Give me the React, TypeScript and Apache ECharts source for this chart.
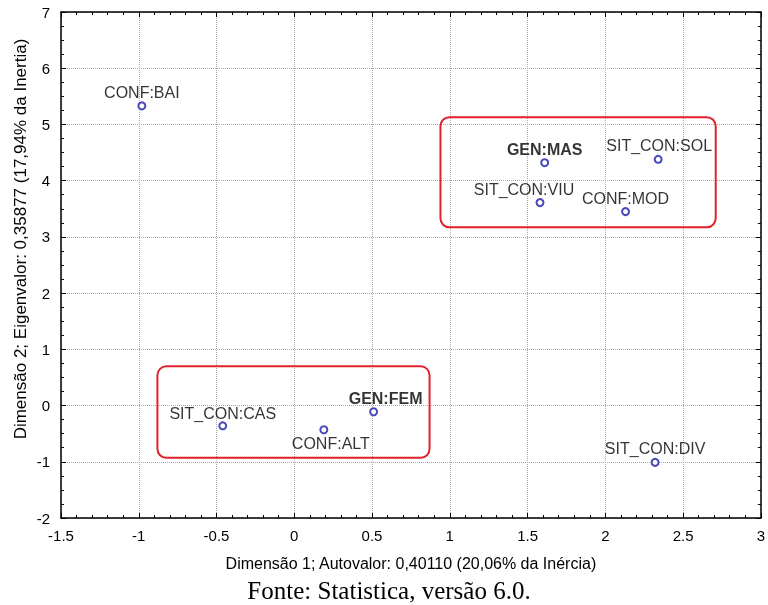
import React, { useEffect, useRef } from "react";
import * as echarts from "echarts";

const pointNames = ["CONF:BAI", "GEN:MAS", "SIT_CON:SOL", "SIT_CON:VIU", "CONF:MOD", "SIT_CON:CAS", "CONF:ALT", "GEN:FEM", "SIT_CON:DIV"];
const dim1 = [-0.98, 1.61, 2.34, 1.58, 2.13, -0.46, 0.19, 0.51, 2.32];
const dim2 = [5.33, 4.32, 4.38, 3.61, 3.45, -0.36, -0.43, -0.11, -1.01];
const boldNames = ["GEN:MAS", "GEN:FEM"];
// highlight boxes in data space: [x0, y0, x1, y1]
const boxes = [
  [0.94, 5.13, 2.71, 3.17],
  [-0.88, 0.7, 0.87, -0.93],
];
const xTitle = "Dimensão 1; Autovalor: 0,40110 (20,06% da Inércia)";
const yTitle = "Dimensão 2; Eigenvalor: 0,35877 (17,94% da Inertia)";
const footer = "Fonte: Statistica, versão 6.0.";

const FONT = "'Liberation Sans', Arial, sans-serif";

export default function App() {
  const ref = useRef<HTMLDivElement>(null);
  useEffect(() => {
    if (!ref.current) return;
    document.body.style.margin = "0";
    const chart = echarts.init(ref.current, null, { renderer: "svg" });
    const labelCfg: Record<string, any> = {
      "SIT_CON:VIU": { offset: [-16, 0] },
      "CONF:ALT": { position: "bottom", offset: [7, 0] },
      "GEN:FEM": { offset: [12, 0] },
      "SIT_CON:CAS": { offset: [0, 1] },
      "SIT_CON:SOL": { offset: [1, 0] },
    };
    const data = pointNames.map((n, i) => ({
      value: [dim1[i], dim2[i], n],
      label: {
        fontWeight: boldNames.includes(n) ? "bold" : "normal",
        ...(labelCfg[n] || {}),
      },
    }));
    const axisCommon = {
      axisLine: { onZero: false, lineStyle: { color: "#000", width: 1.5 } },
      axisTick: { inside: true, length: 5, lineStyle: { color: "#000" } },
      minorTick: { show: true, length: 3, lineStyle: { color: "#000" } },
    };
    chart.setOption({
      animation: false,
      textStyle: { fontFamily: FONT },
      grid: { left: 61, right: 5, top: 12, bottom: 87 },
      xAxis: [
        {
          type: "value",
          min: -1.5,
          max: 3,
          interval: 0.5,
          ...axisCommon,
          minorTick: { ...axisCommon.minorTick, splitNumber: 5 },
          axisLabel: { color: "#000", fontSize: 15, margin: 10, fontFamily: FONT },
          splitLine: { show: true, lineStyle: { color: "#aaa", type: "dotted", width: 1 } },
          name: xTitle,
          nameLocation: "middle",
          nameGap: 37,
          nameTextStyle: { color: "#000", fontSize: 16, fontFamily: FONT },
        },
        {
          type: "value",
          position: "top",
          min: -1.5,
          max: 3,
          interval: 0.5,
          ...axisCommon,
          minorTick: { ...axisCommon.minorTick, splitNumber: 5 },
          axisLabel: { show: false },
          splitLine: { show: false },
        },
      ],
      yAxis: [
        {
          type: "value",
          min: -2,
          max: 7,
          interval: 1,
          ...axisCommon,
          minorTick: { ...axisCommon.minorTick, splitNumber: 4 },
          axisLabel: { color: "#000", fontSize: 15, margin: 11, fontFamily: FONT },
          splitLine: { show: true, lineStyle: { color: "#aaa", type: "dotted", width: 1 } },
        },
        {
          type: "value",
          position: "right",
          min: -2,
          max: 7,
          interval: 1,
          ...axisCommon,
          minorTick: { ...axisCommon.minorTick, splitNumber: 4 },
          axisLabel: { show: false },
          splitLine: { show: false },
        },
      ],
      series: [
        {
          type: "scatter",
          xAxisIndex: 0,
          yAxisIndex: 0,
          symbol: "emptyCircle",
          symbolSize: 7,
          itemStyle: { color: "#1c1ca8", borderColor: "#1c1ca8", borderWidth: 1.5 },
          label: {
            show: true,
            position: "top",
            distance: 1,
            color: "#000",
            fontSize: 16,
            fontFamily: FONT,
            formatter: (p: any) => p.value[2],
          },
          data,
        },
      ],
    });
    const rects = boxes.map((b) => {
      const p0 = chart.convertToPixel({ xAxisIndex: 0, yAxisIndex: 0 }, [b[0], b[1]]) as number[];
      const p1 = chart.convertToPixel({ xAxisIndex: 0, yAxisIndex: 0 }, [b[2], b[3]]) as number[];
      return {
        type: "rect",
        shape: {
          x: Math.min(p0[0], p1[0]),
          y: Math.min(p0[1], p1[1]),
          width: Math.abs(p1[0] - p0[0]),
          height: Math.abs(p1[1] - p0[1]),
          r: 9,
        },
        style: { fill: "none", stroke: "#e0222c", lineWidth: 2 },
        z: 10,
      };
    });
    chart.setOption({
      graphic: [
        ...rects,
        {
          type: "text",
          x: 20,
          y: 239,
          rotation: Math.PI / 2,
          style: {
            text: yTitle,
            fontFamily: FONT,
            fontSize: 17,
            fill: "#000",
            align: "center",
            verticalAlign: "middle",
          },
        },
        {
          type: "text",
          x: 389,
          y: 590,
          style: {
            text: footer,
            fontFamily: "'Liberation Serif', 'Times New Roman', serif",
            fontSize: 25,
            fill: "#000",
            align: "center",
            verticalAlign: "middle",
          },
        },
      ],
    });
    return () => chart.dispose();
  }, []);
  return <div ref={ref} style={{ position: "fixed", left: 0, top: 0, width: 768, height: 605 }} />;
}
